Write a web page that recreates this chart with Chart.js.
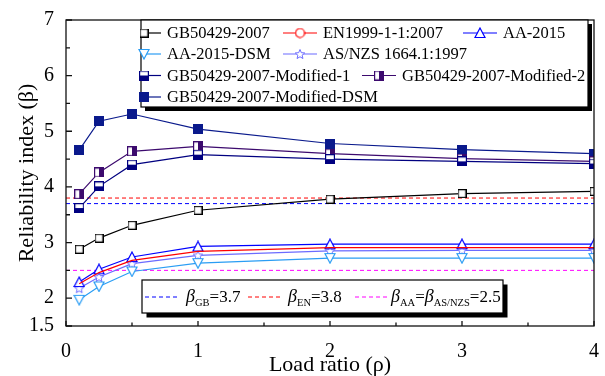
<!DOCTYPE html>
<html>
<head>
<meta charset="utf-8">
<script src="https://cdn.jsdelivr.net/npm/chart.js@4.4.1/dist/chart.umd.min.js"></script>
<style>
  html, body { margin: 0; padding: 0; background: #fff; }
  #wrap { width: 605px; height: 376px; }
</style>
</head>
<body>
<div id="wrap"><canvas id="reliabilityChart" width="605" height="376"></canvas></div>
<script>
// load ratio rho
const loadRatios = [0.1, 0.25, 0.5, 1, 2, 3, 4]

// reliability index beta for each code
const gb2007 = [2.88, 3.08, 3.31, 3.58, 3.78, 3.88, 3.92]
const en1999 = [2.26, 2.46, 2.68, 2.84, 2.91, 2.91, 2.91]
const aa2015 = [2.29, 2.52, 2.74, 2.93, 2.97, 2.97, 2.97]
const aa2015Dsm = [1.97, 2.21, 2.48, 2.63, 2.72, 2.72, 2.72]
const asNzs = [2.18, 2.38, 2.62, 2.77, 2.85, 2.86, 2.86]
const gbModified1 = [3.62, 4.01, 4.40, 4.58, 4.50, 4.46, 4.42]
const gbModified2 = [3.87, 4.26, 4.64, 4.73, 4.60, 4.51, 4.46]
const gbModifiedDsm = [4.66, 5.18, 5.31, 5.04, 4.78, 4.67, 4.60]

const seriesNames = ['GB50429-2007', 'EN1999-1-1:2007', 'AA-2015', 'AA-2015-DSM', 'AS/NZS 1664.1:1997',
    'GB50429-2007-Modified-1', 'GB50429-2007-Modified-2', 'GB50429-2007-Modified-DSM']

// target reliability indices
const targetNames = ['GB', 'EN', 'AA']
const targetAltNames = ['', '', 'AS/NZS']
const targetBetas = [3.7, 3.8, 2.5]

const yTickLabels = [1.5, 2, 3, 4, 5, 6, 7]
const xTickLabels = [0, 1, 2, 3, 4]

const FONT = '"Liberation Serif", "Times New Roman", serif'

// little canvases used as point styles
function makeMarker(size, draw) {
    const c = document.createElement('canvas')
    c.width = size
    c.height = size
    draw(c.getContext('2d'), size)
    return c
}

function squareMarker(size, stroke, fill, half) {
    return makeMarker(size, function(ctx, s) {
        ctx.fillStyle = '#fff'
        ctx.fillRect(0.5, 0.5, s - 1, s - 1)
        ctx.fillStyle = fill
        if (half == 'bottom') ctx.fillRect(0.5, s / 2, s - 1, s / 2 - 0.5)
        else if (half == 'right') ctx.fillRect(s / 2, 0.5, s / 2 - 0.5, s - 1)
        else if (half == 'all') ctx.fillRect(0.5, 0.5, s - 1, s - 1)
        ctx.strokeStyle = stroke
        ctx.lineWidth = 1.2
        ctx.strokeRect(0.6, 0.6, s - 1.2, s - 1.2)
    })
}

function triangleMarker(size, color, down) {
    return makeMarker(size, function(ctx, s) {
        ctx.beginPath()
        if (down) {
            ctx.moveTo(1, 1.5); ctx.lineTo(s - 1, 1.5); ctx.lineTo(s / 2, s - 1)
        } else {
            ctx.moveTo(s / 2, 1); ctx.lineTo(s - 1, s - 1.5); ctx.lineTo(1, s - 1.5)
        }
        ctx.closePath()
        ctx.fillStyle = '#fff'
        ctx.fill()
        ctx.strokeStyle = color
        ctx.lineWidth = 1.2
        ctx.stroke()
    })
}

function circleMarker(size, color) {
    return makeMarker(size, function(ctx, s) {
        ctx.beginPath()
        ctx.arc(s / 2, s / 2, s / 2 - 1, 0, Math.PI * 2)
        ctx.fillStyle = '#fff'
        ctx.fill()
        ctx.strokeStyle = color
        ctx.lineWidth = 1.2
        ctx.stroke()
    })
}

function starMarker(size, color) {
    return makeMarker(size, function(ctx, s) {
        const cx = s / 2, cy = s / 2 + 0.5, ro = s / 2 - 1, ri = ro * 0.45
        ctx.beginPath()
        for (let i = 0; i < 10; i++) {
            const r = i % 2 ? ri : ro
            const a = -Math.PI / 2 + i * Math.PI / 5
            ctx.lineTo(cx + r * Math.cos(a), cy + r * Math.sin(a))
        }
        ctx.closePath()
        ctx.fillStyle = '#fff'
        ctx.fill()
        ctx.strokeStyle = color
        ctx.lineWidth = 1
        ctx.stroke()
    })
}

const seriesColors = ['#000000', '#ff0000', '#0000ff', '#2a9df4', '#6b6bff', '#000080', '#3c0a6e', '#0a1a8c']
const seriesMarkers = [
    squareMarker(9, '#000', '#000', ''),
    circleMarker(11, '#ff0000'),
    triangleMarker(12, '#0000ff', false),
    triangleMarker(12, '#2a9df4', true),
    starMarker(12, '#6b6bff'),
    squareMarker(10, '#000080', '#000080', 'bottom'),
    squareMarker(10, '#3c0a6e', '#3c0a6e', 'right'),
    squareMarker(10, '#0a1a8c', '#0a1a8c', 'all')
]
const seriesValues = [gb2007, en1999, aa2015, aa2015Dsm, asNzs, gbModified1, gbModified2, gbModifiedDsm]
const targetColors = ['#0000ff', '#ff0000', '#ff00ff']

function toPoints(values) {
    return values.map(function(v, i) { return {x: loadRatios[i], y: v} })
}

const datasets = seriesValues.map(function(values, i) {
    return {
        label: seriesNames[i],
        data: toPoints(values),
        borderColor: seriesColors[i],
        borderWidth: 1.2,
        pointStyle: seriesMarkers[i],
        pointRadius: i == 1 ? 0 : 5,
        pointHoverRadius: 5,
        tension: 0
    }
})

targetBetas.forEach(function(beta, i) {
    datasets.push({
        label: 'beta ' + targetNames[i],
        data: [{x: 0, y: beta}, {x: 4, y: beta}],
        borderColor: targetColors[i],
        borderWidth: 1,
        borderDash: [4, 3],
        pointRadius: 0
    })
})

// frame + inward tick marks
const framePlugin = {
    id: 'frame',
    afterDatasetsDraw(chart) {
        const ctx = chart.ctx
        const a = chart.chartArea
        const xs = chart.scales.x
        const ys = chart.scales.y
        ctx.save()
        ctx.strokeStyle = '#111'
        ctx.lineWidth = 1.3
        ctx.beginPath()
        xs.ticks.forEach(function(t) {
            const px = xs.getPixelForValue(t.value)
            const len = Number.isInteger(t.value) ? 5 : 3.5
            ctx.moveTo(px, a.bottom)
            ctx.lineTo(px, a.bottom - len)
        })
        ys.ticks.forEach(function(t) {
            const py = ys.getPixelForValue(t.value)
            const len = yTickLabels.includes(t.value) ? 6 : 4
            ctx.moveTo(a.left, py)
            ctx.lineTo(a.left + len, py)
        })
        ctx.stroke()
        ctx.strokeRect(a.left, a.top, a.right - a.left, a.bottom - a.top)
        ctx.restore()
    }
}

function shadowBox(ctx, x, y, w, h, off) {
    ctx.fillStyle = '#000'
    ctx.fillRect(x + off, y + off, w, h)
    ctx.fillStyle = '#fff'
    ctx.fillRect(x, y, w, h)
    ctx.strokeStyle = '#000'
    ctx.lineWidth = 1.2
    ctx.strokeRect(x, y, w, h)
}

// both legend boxes are drawn by hand
const legendPlugin = {
    id: 'customLegends',
    afterDraw(chart) {
        const ctx = chart.ctx
        ctx.save()

        shadowBox(ctx, 141, 20, 447, 87, 4)
        const slots = [[127, 33], [283, 33], [463, 33], [127, 54], [283, 54], [127, 75.5], [362, 75.5], [127, 97]]
        ctx.font = '16.5px ' + FONT
        ctx.textBaseline = 'middle'
        seriesNames.forEach(function(name, i) {
            const x = slots[i][0], y = slots[i][1]
            ctx.strokeStyle = seriesColors[i]
            ctx.lineWidth = 1.2
            ctx.beginPath()
            ctx.moveTo(Math.max(x, 142), y)
            ctx.lineTo(x + 34, y)
            ctx.stroke()
            const m = seriesMarkers[i]
            ctx.drawImage(m, x + 17 - m.width / 2, y - m.height / 2)
            ctx.fillStyle = '#000'
            ctx.fillText(name, x + 40, y + 1)
        })

        shadowBox(ctx, 142, 280, 361, 33, 4.5)
        const lineStarts = [145, 248, 355]
        const textStarts = [186, 288, 391]
        const cy = 296
        targetNames.forEach(function(name, i) {
            ctx.strokeStyle = targetColors[i]
            ctx.lineWidth = 1
            ctx.setLineDash([4, 3])
            ctx.beginPath()
            ctx.moveTo(lineStarts[i], cy + 1)
            ctx.lineTo(lineStarts[i] + 34, cy + 1)
            ctx.stroke()
            ctx.setLineDash([])
            let tx = textStarts[i]
            const parts = [['β', 'it'], [name, 'sub']]
            if (targetAltNames[i]) parts.push(['=', 'rm'], ['β', 'it'], [targetAltNames[i], 'sub'])
            parts.push(['=' + targetBetas[i], 'rm'])
            ctx.fillStyle = '#000'
            ctx.textBaseline = 'alphabetic'
            parts.forEach(function(p) {
                if (p[1] == 'it') ctx.font = 'italic 18px ' + FONT
                else if (p[1] == 'sub') ctx.font = '10.5px ' + FONT
                else ctx.font = '17px ' + FONT
                ctx.fillText(p[0], tx, p[1] == 'sub' ? cy + 10 : cy + 6)
                tx += ctx.measureText(p[0]).width
            })
        })
        ctx.restore()
    }
}

Chart.defaults.font.family = FONT
Chart.defaults.color = '#000'

new Chart(document.getElementById('reliabilityChart'), {
    type: 'line',
    data: { datasets: datasets },
    options: {
        responsive: false,
        animation: false,
        events: [],
        layout: { padding: { top: 20, right: 9, bottom: 0, left: 0 } },
        plugins: {
            legend: { display: false },
            tooltip: { enabled: false }
        },
        scales: {
            x: {
                type: 'linear',
                min: 0,
                max: 4,
                grid: { display: false },
                border: { display: false },
                ticks: {
                    stepSize: 0.5,
                    autoSkip: false,
                    maxRotation: 0,
                    padding: 6,
                    font: { size: 20 },
                    callback: function(v) { return xTickLabels.includes(v) ? String(v) : '' }
                },
                title: {
                    display: true,
                    text: 'Load ratio (ρ)',
                    font: { size: 22, lineHeight: 1 },
                    padding: { top: 0, bottom: 0 }
                },
                afterFit: function(s) { s.height = 50 }
            },
            y: {
                min: 1.5,
                max: 7,
                grid: { display: false },
                border: { display: false },
                ticks: {
                    stepSize: 0.5,
                    autoSkip: false,
                    padding: 4,
                    font: { size: 20 },
                    callback: function(v) { return yTickLabels.includes(v) ? String(v) : '' }
                },
                title: {
                    display: true,
                    text: 'Reliability index (β)',
                    font: { size: 22, lineHeight: 1.2 },
                    padding: { top: 14, bottom: 0 }
                },
                afterFit: function(s) { s.width = 66 }
            }
        }
    },
    plugins: [framePlugin, legendPlugin]
})
</script>
</body>
</html>
